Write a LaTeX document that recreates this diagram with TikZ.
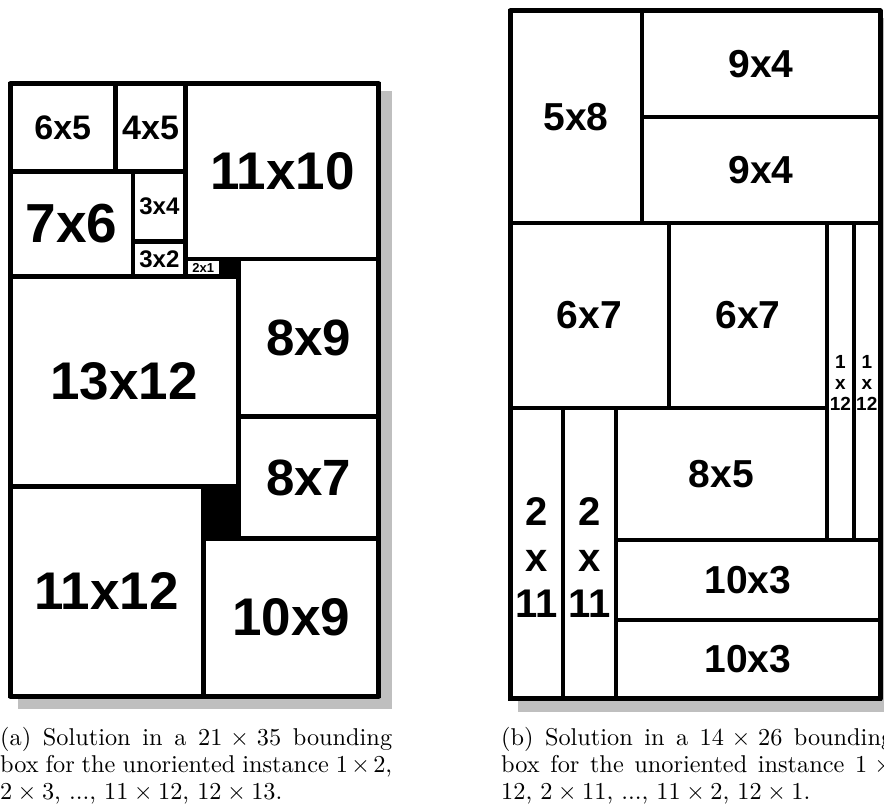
\documentclass[tikz,border=0pt]{standalone}
\usepackage{graphicx}
\usepackage{fontspec}
\newfontfamily\labfont{Liberation Sans}
\newcommand\fsz[2]{\fontsize{#1}{#2}\selectfont}
\newcommand\captxt[1]{\scalebox{2.43}{\parbox[t]{161.3pt}{\fsz{10}{11.23}#1}}}
\tikzset{
  cellL/.style={draw=black, line width=4.5pt},
  cellR/.style={draw=black, line width=4pt},
  framebox/.style={draw=black, line width=5pt, line join=round},
  shadowbox/.style={fill=black!25, draw=none},
  gapfill/.style={fill=black, draw=none},
  lab/.style={inner sep=0pt, align=center, font={\labfont\bfseries\fsz{#1}{#1}}},
  lab/.default=39,
  stack/.style 2 args={inner sep=0pt, align=center, font={\labfont\bfseries\fsz{#1}{#2}}},
  capbox/.style={inner sep=0pt, anchor=base west},
}
\begin{document}
\begin{tikzpicture}[x=1pt,y=-1pt]
\useasboundingbox (0,0) rectangle (884,805);
\clip (0,0) rectangle (884,805);
% ---------- left solution (21 x 35) ----------
\fill[shadowbox] (17.5,91.5) rectangle (391.5,708.5);
\fill[white] (10,84) rectangle (379,696);
\begin{scope}[shift={(10,84)}, x=17.57pt, y=-17.49pt]
  \fill[gapfill] (12,10) rectangle (13,11);
  \fill[gapfill] (11,23) rectangle (13,26);
  \draw[cellL] (0,0) rectangle (6,5);
  \draw[cellL] (6,0) rectangle (10,5);
  \draw[cellL] (10,0) rectangle (21,10);
  \draw[cellL] (0,5) rectangle (7,11);
  \draw[cellL] (7,5) rectangle (10,9);
  \draw[cellL] (7,9) rectangle (10,11);
  \draw[cellL] (10,10) rectangle (12,11);
  \draw[cellL] (0,11) rectangle (13,23);
  \draw[cellL] (13,10) rectangle (21,19);
  \draw[cellL] (13,19) rectangle (21,26);
  \draw[cellL] (0,23) rectangle (11,35);
  \draw[cellL] (11,26) rectangle (21,35);
  \node[lab=34] (l65) at (3,2.5) {6x5};
  \node[lab=34] (l45) at (8,2.5) {4x5};
  \node[lab=53] (l1110) at (15.5,5) {11x10};
  \node[lab=55] (l76) at (3.5,8) {7x6};
  \node[lab=24] (l34) at (8.5,7) {3x4};
  \node[lab=24] (l32) at (8.5,10) {3x2};
  \node[lab=13] (l21) at (11,10.5) {2x1};
  \node[lab=53] (l1312) at (6.5,17) {13x12};
  \node[lab=51] (l89) at (17,14.5) {8x9};
  \node[lab=51] (l87) at (17,22.5) {8x7};
  \node[lab=53] (l1112) at (5.5,29) {11x12};
  \node[lab=53] (l109) at (16,30.5) {10x9};
  \draw[framebox] (0,0) rectangle (21,35);
\end{scope}
% ---------- right solution (14 x 26) ----------
\fill[shadowbox] (517.5,18.5) rectangle (892.5,711.5);
\fill[white] (510,11) rectangle (880,699);
\begin{scope}[shift={(510,11)}, x=26.43pt, y=-26.46pt]
  \draw[cellR] (0,0) rectangle (5,8);
  \draw[cellR] (5,0) rectangle (14,4);
  \draw[cellR] (5,4) rectangle (14,8);
  \draw[cellR] (0,8) rectangle (6,15);
  \draw[cellR] (6,8) rectangle (12,15);
  \draw[cellR] (12,8) rectangle (13,20);
  \draw[cellR] (13,8) rectangle (14,20);
  \draw[cellR] (0,15) rectangle (2,26);
  \draw[cellR] (2,15) rectangle (4,26);
  \draw[cellR] (4,15) rectangle (12,20);
  \draw[cellR] (4,20) rectangle (14,23);
  \draw[cellR] (4,23) rectangle (14,26);
  \node[lab=39] (r58) at (2.5,4) {5x8};
  \node[lab=39] (r94a) at (9.5,2) {9x4};
  \node[lab=39] (r94b) at (9.5,6) {9x4};
  \node[lab=39] (r67a) at (3,11.5) {6x7};
  \node[lab=39] (r67b) at (9,11.5) {6x7};
  \node[stack={19}{21}] (r112a) at (12.5,14.05) {1\\x\\12};
  \node[stack={19}{21}] (r112b) at (13.5,14.05) {1\\x\\12};
  \node[stack={40}{46}] (r211a) at (1,20.65) {2\\x\\11};
  \node[stack={40}{46}] (r211b) at (3,20.65) {2\\x\\11};
  \node[lab=39] (r85) at (8,17.5) {8x5};
  \node[lab=39] (r103a) at (9,21.5) {10x3};
  \node[lab=39] (r103b) at (9,24.5) {10x3};
  \draw[framebox] (0,0) rectangle (14,26);
\end{scope}
% ---------- captions ----------
\node[capbox] (capa) at (0,745) {\captxt{(a) Solution in a $21\times 35$ bounding\linebreak box for the unoriented instance $1\times 2$,\linebreak $2\times 3$, ..., $11\times 12$, $12\times 13$.}};
\node[capbox] (capb) at (501,745) {\captxt{(b) Solution in a $14\times 26$ bounding\linebreak box for the unoriented instance $1\times\penalty-10000 12$, $2\times 11$, ..., $11\times 2$, $12\times 1$.}};
\end{tikzpicture}
\end{document}
